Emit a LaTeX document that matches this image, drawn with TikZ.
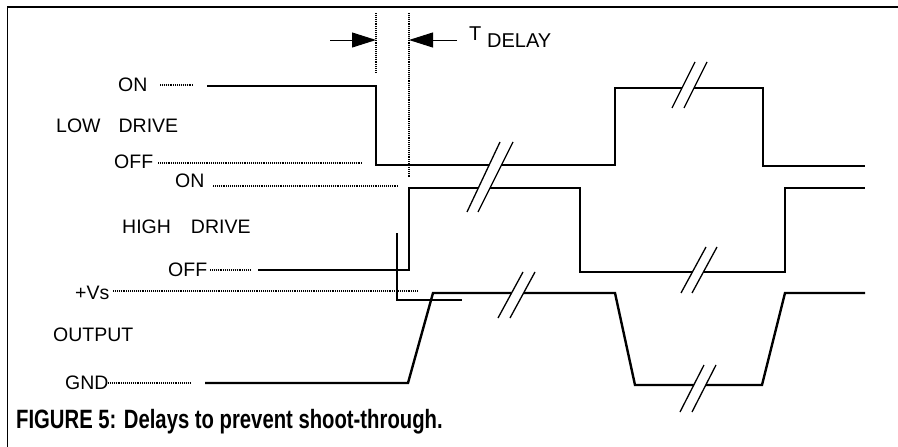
\documentclass[tikz,border=0pt]{standalone}
\usepackage{fontspec}
\setmainfont{Liberation Sans}
\usetikzlibrary{arrows.meta}
\tikzset{
  lbl/.style={anchor=base west, inner sep=0pt, font=\fontsize{19.5}{19.5}\selectfont},
  guide/.style={line width=1.1pt, dash pattern=on 1pt off 0.9pt},
  wave/.style={line width=1.6pt, line join=miter},
  outwave/.style={line width=2.4pt, line join=miter},
  brk/.style={line width=1.3pt},
  dimarrow/.style={line width=1pt, -{Triangle[length=24pt,width=15pt]}}
}
\newcommand{\breakmark}[8]{%
  \fill[white] (#1,#2) -- (#3,#4) -- (#7,#8) -- (#5,#6) -- cycle;
  \draw[brk] (#1,#2) -- (#3,#4);
  \draw[brk] (#5,#6) -- (#7,#8);}
\begin{document}
\begin{tikzpicture}[x=1pt,y=-1pt]
\useasboundingbox (0,0) rectangle (898,447);
% frame
\draw[line width=1.6pt] (7.5,447) -- (7.5,7) -- (898,7);
% labels
\node[lbl] (lon) at (118,91) {ON};
\node[lbl] (ldrive) at (56,132) {LOW\hspace{18pt}DRIVE};
\node[lbl] (loff) at (114,168) {OFF};
\node[lbl] (hon) at (175,187) {ON};
\node[lbl] (hdrive) at (122,233) {HIGH\hspace{20pt}DRIVE};
\node[lbl] (hoff) at (168,276) {OFF};
\node[lbl] (vs) at (75,299) {+Vs};
\node[lbl] (out) at (53,341) {OUTPUT};
\node[lbl] (gnd) at (65,389) {GND};
\node[lbl, font=\fontsize{20}{20}\selectfont] (tt) at (469,40) {T};
\node[lbl, font=\fontsize{20}{20}\selectfont] (delay) at (487,47) {DELAY};
\node[anchor=base west, inner sep=0pt] (cap) at (16,428)
  {\scalebox{0.765}[1]{\fontsize{26.5}{26.5}\selectfont\bfseries FIGURE 5: Delays to prevent shoot-through.}};
% guides
\draw[guide] (160,85) -- (193,85);
\draw[guide] (158,163) -- (363,163);
\draw[guide] (213,186) -- (398,186);
\draw[guide] (210,270) -- (250,270);
\draw[guide] (113,291) -- (418,291);
\draw[guide] (108,383) -- (190,383);
\draw[guide] (376,13) -- (376,72);
\draw[guide] (409,13) -- (409,178);
% delay arrows
\coordinate (a1) at (330,40); \coordinate (a1t) at (376,40);
\coordinate (a2) at (457,40); \coordinate (a2t) at (409,40);
\draw[dimarrow] (a1) -- (a1t);
\draw[dimarrow] (a2) -- (a2t);
% waveforms
\draw[wave] (207,86) -- (376,86) -- (376,165) -- (615,165) -- (615,88) -- (763,88) -- (763,166) -- (865,166);
\draw[line width=2.4pt] (207,86) -- (376,86);
\draw[wave] (258,270) -- (409,270) -- (409,188) -- (580,188) -- (580,272) -- (785,272) -- (785,188) -- (865,188);
\draw[line width=2.2pt] (258,270) -- (395,270);
\draw[outwave] (205,383) -- (408,383) -- (433,293) -- (615,293) -- (635,385) -- (762,385) -- (785,293) -- (865,293);
\draw[line width=1.5pt] (397,233) -- (397,300) -- (462,300);
% break marks
\breakmark{467}{212}{500}{142}{478}{212}{513}{142}
\breakmark{672}{108}{695}{62}{684}{108}{707}{62}
\breakmark{681}{293}{706}{247}{692}{293}{717}{247}
\breakmark{498}{318}{523}{272}{510}{318}{535}{272}
\breakmark{680}{412}{704}{365}{692}{412}{716}{365}
\end{tikzpicture}
\end{document}
